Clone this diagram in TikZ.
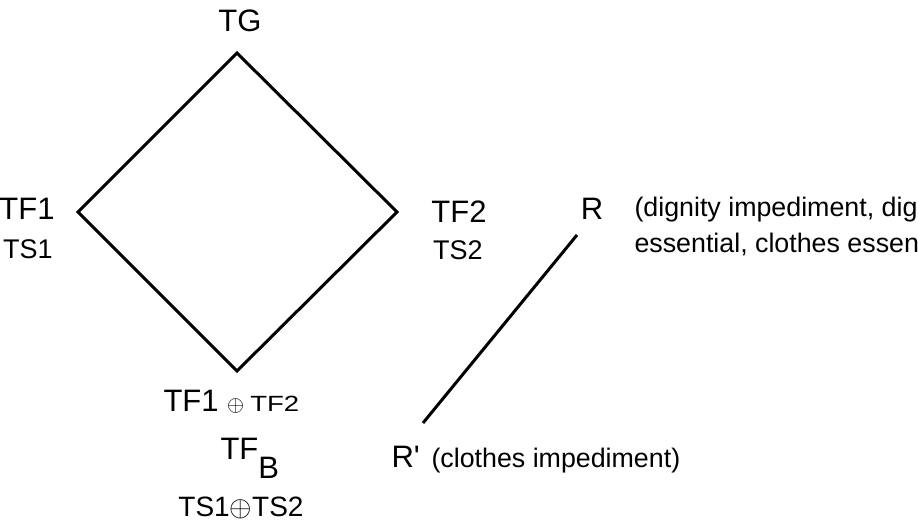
\documentclass[tikz,border=0pt]{standalone}
\usepackage{graphicx}
\usepackage{fontspec}
\setmainfont{Liberation Sans}

\begin{document}
\begin{tikzpicture}[x = 0.5pt, y = -0.5pt, line width = 1.5pt, line join = miter,
	big/.style = {font = \fontsize{15.5}{18}\selectfont, inner sep = 0pt},
	small/.style = {font = \fontsize{13.5}{16}\selectfont, inner sep = 0pt},
	note/.style = {font = \fontsize{13.4}{18}\selectfont, inner sep = 0pt, anchor = base west}]

	% Frame of the picture

	\useasboundingbox (0, 0) rectangle (918, 523);

	% Corners of the lattice

	\coordinate (top) at (237, 53);
	\coordinate (left) at (78, 212);
	\coordinate (right) at (397, 212);
	\coordinate (bottom) at (237, 371);

	\draw (top) -- (right) -- (bottom) -- (left) -- cycle;

	% Labels of the corners

	\node [big, anchor = base] (tg) at (240, 32) {TG};
	\node [big, anchor = base] (tf1) at (27, 220) {TF1};
	\node [small, anchor = base] (ts1) at (28, 259) {TS1};
	\node [big, anchor = base] (tf2) at (459, 223) {TF2};
	\node [small, anchor = base] (ts2) at (458, 260) {TS2};
	\node [big, anchor = base west] (tfsum) at (162, 412)
		{TF1 {\fontsize{11}{13}\selectfont$\mathord{\oplus}$ \scalebox{1.25}[1]{TF2}}};
	\node [big, anchor = base west] (tfb) at (219, 460) {TF\raisebox{-9.5pt}{B}};
	\node [font = \fontsize{14}{16}\selectfont, inner sep = 0pt, anchor = base] (tssum) at (241, 517)
		{TS1$\mathord{\oplus}$TS2};

	% Refinement

	\node [big, anchor = base] (r) at (592, 220) {R};
	\node [big, anchor = base west] (rp) at (390, 468) {R\textquotesingle};
	\coordinate (rtop) at (577, 235);
	\coordinate (rbot) at (423, 423);

	\draw (rtop) -- (rbot);

	% Readings

	\node [note] (rnote1) at (633, 217) {(dignity impediment, dig};
	\node [note] (rnote2) at (633, 253) {essential, clothes essen};
	\node [note] (rpnote) at (430, 468) {(clothes impediment)};

\end{tikzpicture}
\end{document}
